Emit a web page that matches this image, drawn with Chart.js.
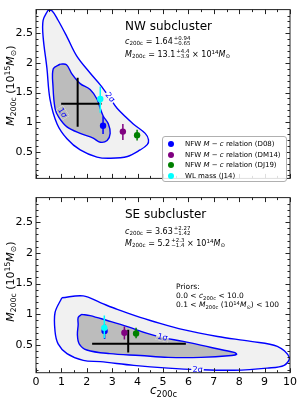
<!DOCTYPE html>
<html>
<head>
<meta charset="utf-8">
<script src="https://cdn.jsdelivr.net/npm/chart.js@4.4.0/dist/chart.umd.min.js"></script>
<style>
    body { margin: 0; background: #fff; font-family: "DejaVu Sans", sans-serif; }
    #wrap { position: relative; width: 300px; height: 401px; overflow: hidden; }
    canvas { position: absolute; left: 0; }
    .txt { position: absolute; white-space: nowrap; color: #000; line-height: 1; }
    .txt sub { font-size: 70%; vertical-align: -0.3em; line-height: 0; }
    .txt sup { font-size: 70%; vertical-align: 0.45em; line-height: 0; }
    .ss { display: inline-flex; flex-direction: column; vertical-align: middle; font-size: 68%; line-height: 0.95; margin-left: 1px; }
    .ytitle { width: 130px; text-align: center; font-size: 11px; transform: rotate(-90deg); }
    #legend { position: absolute; left: 162px; top: 136px; width: 123px; height: 44px; border: 1px solid #b0b0b0; border-radius: 3px; background: rgba(255,255,255,0.85); font-size: 7px; }
    #legend .row { position: absolute; left: 0; height: 10px; line-height: 10px; white-space: nowrap; }
    #legend .dot { position: absolute; left: 5px; top: 2px; width: 6px; height: 6px; border-radius: 50%; }
    #legend .lab { position: absolute; left: 22px; top: 0; }
</style>
</head>
<body>
<div id="wrap">
    <canvas id="nwChart" width="300" height="188" style="top:0"></canvas>
    <canvas id="seChart" width="300" height="213" style="top:188px"></canvas>

    <div class="txt" style="left:125px;top:20px;font-size:12px">NW subcluster</div>
    <div class="txt" style="left:125px;top:36px;font-size:8px"><i>c</i><sub>200c</sub> = 1.64<span class="ss"><span>+0.94</span><span>−0.65</span></span></div>
    <div class="txt" style="left:125px;top:49px;font-size:8px"><i>M</i><sub>200c</sub> = 13.1<span class="ss"><span>+4.4</span><span>−3.9</span></span> × 10<sup>14</sup><i>M</i><sub>⊙</sub></div>

    <div class="txt" style="left:125px;top:208px;font-size:12px">SE subcluster</div>
    <div class="txt" style="left:125px;top:226px;font-size:8px"><i>c</i><sub>200c</sub> = 3.63<span class="ss"><span>+2.27</span><span>−1.42</span></span></div>
    <div class="txt" style="left:125px;top:238px;font-size:8px"><i>M</i><sub>200c</sub> = 5.2<span class="ss"><span>+2.3</span><span>−1.4</span></span> × 10<sup>14</sup><i>M</i><sub>⊙</sub></div>

    <div class="txt" style="left:176px;top:282px;font-size:7.5px;line-height:9px">Priors:<br>0.0 &lt; <i>c</i><sub>200c</sub> &lt; 10.0<br>0.1 &lt; <i>M</i><sub>200c</sub> (10<sup>14</sup><i>M</i><sub>⊙</sub>) &lt; 100</div>

    <div class="txt ytitle" style="left:-55px;top:80px"><i>M</i><sub>200c</sub> (10<sup>15</sup><i>M</i><sub>⊙</sub>)</div>
    <div class="txt ytitle" style="left:-55px;top:276px"><i>M</i><sub>200c</sub> (10<sup>15</sup><i>M</i><sub>⊙</sub>)</div>
    <div class="txt" style="left:150px;top:384px;font-size:12px"><i>c</i><sub>200c</sub></div>

    <div id="legend"></div>
</div>

<script>
// ---- data ----
const cTicks = [0, 1, 2, 3, 4, 5, 6, 7, 8, 9, 10];
const mTicks = [0.5, 1, 1.5, 2, 2.5];

const relNames = [
    'NFW <i>M</i> − <i>c</i> relation (D08)',
    'NFW <i>M</i> − <i>c</i> relation (DM14)',
    'NFW <i>M</i> − <i>c</i> relation (DJ19)',
    'WL mass (J14)'
];
const relColors = ['#0000ff', '#800080', '#008000', '#00ffff'];

// NW subcluster: c200c, M200c and M error range per estimate
const nwC   = [2.64, 3.42, 3.98, 2.53];
const nwM   = [0.94, 0.84, 0.78, 1.39];
const nwMLo = [0.80, 0.70, 0.69, 1.16];
const nwMHi = [1.10, 0.97, 0.87, 1.60];

// SE subcluster
const seC   = [2.70, 3.48, 3.94, 2.69];
const seM   = [0.73, 0.70, 0.69, 0.78];
const seMLo = [0.60, 0.59, 0.61, 0.61];
const seMHi = [0.84, 0.80, 0.78, 0.98];

// best fit: [c, cLo, cHi, M, MLo, MHi]
const nwBest = [1.64, 0.99, 2.58, 1.31, 0.92, 1.75];
const seBest = [3.63, 2.21, 5.90, 0.52, 0.38, 0.75];

// contours [c, M]
const nwOuter = [
    [0.47, 2.89], [0.63, 2.88], [0.87, 2.72], [1.22, 2.44], [1.6, 2.12], [2.13, 1.83],
    [2.53, 1.63], [2.92, 1.40], [3.2, 1.23], [3.83, 0.97], [4.3, 0.81], [4.43, 0.70],
    [4.38, 0.62], [4.1, 0.53], [3.6, 0.42], [2.92, 0.39], [2.4, 0.41], [1.74, 0.53],
    [1.22, 0.72], [0.83, 0.97], [0.55, 1.39], [0.43, 1.91], [0.28, 2.44], [0.28, 2.72],
    [0.47, 2.89]
];
const nwInner = [
    [0.95, 1.98], [1.2, 1.97], [1.42, 1.81], [1.74, 1.65], [2.13, 1.55], [2.4, 1.39],
    [2.53, 1.23], [2.65, 1.10], [2.85, 0.97], [2.92, 0.81], [2.8, 0.69], [2.53, 0.66],
    [2.25, 0.73], [1.74, 0.81], [1.22, 0.92], [0.9, 1.08], [0.75, 1.23], [0.67, 1.6],
    [0.68, 1.9], [0.95, 1.98]
];
const seOuter = [
    [1.02, 1.27], [1.86, 1.30], [2.53, 1.19], [3.2, 1.08], [4.1, 0.95], [4.5, 0.90],
    [5.8, 0.75], [7.15, 0.64], [8.46, 0.56], [9.5, 0.48], [9.97, 0.30], [9.77, 0.17],
    [9.1, 0.125], [7.8, 0.09], [6.35, 0.10], [5.2, 0.125], [3.85, 0.17], [2.53, 0.23],
    [1.86, 0.25], [1.22, 0.36], [0.87, 0.52], [0.75, 0.72], [0.75, 1.03], [1.02, 1.27]
];
const seInner = [
    [1.8, 1.00], [2.13, 0.98], [2.8, 0.90], [3.6, 0.80], [4.38, 0.69], [5.0, 0.62],
    [5.8, 0.56], [6.9, 0.46], [7.8, 0.38], [7.9, 0.35], [7.7, 0.33], [6.5, 0.30],
    [5.2, 0.30], [4.1, 0.33], [2.9, 0.36], [2.0, 0.42], [1.7, 0.52], [1.63, 0.67],
    [1.66, 0.83], [1.66, 0.95], [1.8, 1.00]
];

const outerFill = '#f1f1f1';
const innerFill = '#bcbcbc';

// legend
document.getElementById('legend').innerHTML = relNames.map((n, i) =>
    `<div class="row" style="top:${2 + i * 10.5}px"><span class="dot" style="background:${relColors[i]}"></span><span class="lab">${n}</span></div>`
).join('');

const toXY = arr => arr.map(p => ({ x: p[0], y: p[1] }));

// ticks inward on all four sides, plus frame
const frameTicks = {
    id: 'frameTicks',
    afterDraw(chart) {
        const { ctx, chartArea: a } = chart;
        const xs = chart.scales.x, ys = chart.scales.y;
        ctx.save();
        ctx.strokeStyle = '#222';
        ctx.lineWidth = 1;
        ctx.strokeRect(a.left, a.top, a.right - a.left, a.bottom - a.top);
        ctx.beginPath();
        for (let k = 0; k <= 20; k++) {
            const px = Math.round(xs.getPixelForValue(k * 0.5)) + 0.5;
            const len = k % 2 === 0 ? 4.5 : 2.5;
            ctx.moveTo(px, a.bottom); ctx.lineTo(px, a.bottom - len);
            ctx.moveTo(px, a.top); ctx.lineTo(px, a.top + len);
        }
        for (let k = 1; k <= 29; k++) {
            const v = k * 0.1;
            if (v < ys.min || v > ys.max) continue;
            const py = Math.round(ys.getPixelForValue(v)) + 0.5;
            const len = k % 5 === 0 ? 4.5 : 2.5;
            ctx.moveTo(a.left, py); ctx.lineTo(a.left + len, py);
            ctx.moveTo(a.right, py); ctx.lineTo(a.right - len, py);
        }
        ctx.stroke();
        ctx.restore();
    }
};

// contour labels with the line cut away beneath them
function sigmaLabels(items) {
    return {
        id: 'sigmaLabels',
        afterDatasetsDraw(chart) {
            const { ctx, chartArea: a } = chart;
            const xs = chart.scales.x, ys = chart.scales.y;
            const metas = [chart.getDatasetMeta(0), chart.getDatasetMeta(1)];
            items.forEach(([t, c, m, ang]) => {
                const px = xs.getPixelForValue(c), py = ys.getPixelForValue(m);
                ctx.save();
                ctx.font = '8px "DejaVu Sans"';
                const w = ctx.measureText(t).width + 2, h = 8;
                const base = ctx.getTransform();
                ctx.translate(px, py);
                ctx.rotate(ang * Math.PI / 180);
                ctx.beginPath();
                ctx.rect(-w / 2, -h / 2, w, h);
                ctx.clip();
                ctx.setTransform(base);
                ctx.fillStyle = '#fff';
                ctx.fillRect(a.left, a.top, a.right - a.left, a.bottom - a.top);
                metas.forEach((meta, i) => {
                    ctx.beginPath();
                    meta.dataset.path(ctx);
                    ctx.closePath();
                    ctx.fillStyle = i ? innerFill : outerFill;
                    ctx.fill();
                });
                ctx.translate(px, py);
                ctx.rotate(ang * Math.PI / 180);
                ctx.fillStyle = '#0000ff';
                ctx.textAlign = 'center';
                ctx.textBaseline = 'middle';
                ctx.fillText(t, 0, 0.5);
                ctx.restore();
            });
        }
    };
}

function makePanel(id, p) {
    const datasets = [];
    const contour = (pts, fillCol, order) => ({
        data: toXY(pts), showLine: true, fill: 'shape', backgroundColor: fillCol,
        borderColor: '#0000ff', borderWidth: 1.4, pointRadius: 0, tension: 0.35, order
    });
    datasets.push(contour(p.outer, outerFill, 30));
    datasets.push(contour(p.inner, innerFill, 29));

    const seg = (pts, color, width, order) => ({
        data: toXY(pts), showLine: true, borderColor: color, borderWidth: width,
        pointRadius: 0, fill: false, order
    });
    const b = p.best;
    datasets.push(seg([[b[1], b[3]], [b[2], b[3]]], '#000', 2, 20));
    datasets.push(seg([[b[0], b[4]], [b[0], b[5]]], '#000', 2, 20));

    p.c.forEach((c, i) => {
        datasets.push(seg([[c, p.lo[i]], [c, p.hi[i]]], relColors[i], 1.5, 8 - 2 * i));
        datasets.push({
            data: [{ x: c, y: p.m[i] }], showLine: false, pointRadius: 3.2,
            pointBackgroundColor: relColors[i], pointBorderWidth: 0, order: 7 - 2 * i
        });
    });

    return new Chart(document.getElementById(id), {
        type: 'scatter',
        data: { datasets },
        options: {
            responsive: false,
            animation: false,
            devicePixelRatio: 1,
            layout: { padding: { left: 0, right: 10, top: p.padTop, bottom: 0 } },
            plugins: { legend: { display: false }, tooltip: { enabled: false } },
            scales: {
                x: {
                    type: 'linear', min: 0, max: 10,
                    grid: { display: false, drawTicks: false, tickLength: 0 },
                    border: { display: false },
                    afterBuildTicks: s => { s.ticks = cTicks.map(v => ({ value: v })); },
                    afterFit: s => { s.height = p.xHeight; },
                    ticks: {
                        display: p.showX, color: '#000', padding: 3, maxRotation: 0, autoSkip: false,
                        font: { size: 11, family: '"DejaVu Sans"' }
                    }
                },
                y: {
                    type: 'linear', min: 0.05, max: 2.9,
                    grid: { display: false, drawTicks: false, tickLength: 0 },
                    border: { display: false },
                    afterBuildTicks: s => { s.ticks = mTicks.map(v => ({ value: v })); },
                    afterFit: s => { s.width = 36; },
                    ticks: {
                        color: '#000', padding: 3, autoSkip: false,
                        font: { size: 11, family: '"DejaVu Sans"' },
                        callback: v => String(v)
                    }
                }
            }
        },
        plugins: [frameTicks, sigmaLabels(p.labels)]
    });
}

makePanel('nwChart', {
    outer: nwOuter, inner: nwInner, best: nwBest,
    c: nwC, m: nwM, lo: nwMLo, hi: nwMHi,
    padTop: 2.6, xHeight: 3, showX: false,
    labels: [['2σ', 2.92, 1.42, 52], ['1σ', 1.05, 1.16, 58]]
});
makePanel('seChart', {
    outer: seOuter, inner: seInner, best: seBest,
    c: seC, m: seM, lo: seMLo, hi: seMHi,
    padTop: 2, xHeight: 28.3, showX: true,
    labels: [['1σ', 4.98, 0.63, 13], ['2σ', 6.36, 0.105, 2]]
});
</script>
</body>
</html>
